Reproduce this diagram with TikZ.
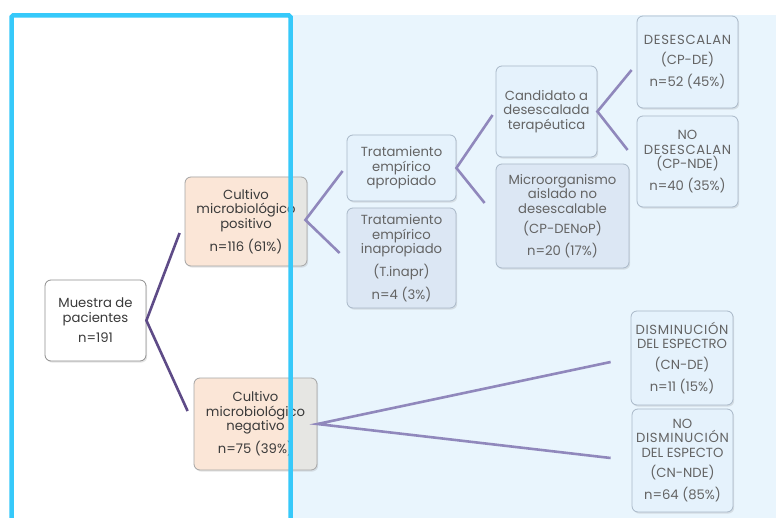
\documentclass[tikz,border=0pt]{standalone}
\usepackage{fontspec}
\setmainfont{Poppins}
\usetikzlibrary{shadows,calc}

\definecolor{frameblue}{HTML}{36C9FA}
\definecolor{panelblue}{HTML}{E9F5FD}
\definecolor{peach}{HTML}{FBE6D7}
\definecolor{peachgray}{HTML}{E6E6E3}
\definecolor{boxlight}{HTML}{E5F2FC}
\definecolor{boxdark}{HTML}{DCE7F4}
\definecolor{edgeblue}{HTML}{A9B8C8}
\definecolor{edgegray}{HTML}{8E8E8E}
\definecolor{darkline}{HTML}{5E4B87}
\definecolor{lightline}{HTML}{9088BC}
\definecolor{txtdark}{HTML}{3A3A3A}
\definecolor{txtgray}{HTML}{646464}

% wider tracking for the upper-case labels
\newcommand\wideword[1]{{\addfontfeature{LetterSpace=5}#1}}

\begin{document}
\begin{tikzpicture}[x=1pt,y=-1pt,
  box/.style={rectangle, rounded corners=6pt, draw, line width=0.8pt,
    align=center, inner sep=2pt,
    font=\fontsize{13.2}{14.6}\selectfont,
    drop shadow={shadow xshift=1.2pt, shadow yshift=-1.6pt, opacity=0.2}},
  rootbox/.style={box, fill=white, draw=edgegray, text=txtdark},
  culturebox/.style={box, fill=peachgray, draw=edgegray!80, text=txtdark,
    path picture={\fill[peach] (path picture bounding box.south west)
      rectangle ([xshift=#1]path picture bounding box.north west);}},
  lightbox/.style={box, fill=boxlight, draw=edgeblue, text=txtgray},
  darkbox/.style={box, fill=boxdark, draw=edgeblue, text=txtgray},
  rootlink/.style={darkline, line width=2.6pt},
  branch/.style={lightline, line width=2.6pt}
]
\useasboundingbox (0,0) rectangle (776,518);
\fill[white] (0,0) rectangle (776,518);

% light blue panel on the right
\fill[panelblue] (290.5,15) rectangle (776,518);

% boxes
\node[rootbox, minimum width=101pt, minimum height=81pt] (muestra) at (95.5,320.5)
  {Muestra de\\pacientes\\[6pt]n=191};
\node[culturebox=106pt, minimum width=122pt, minimum height=89pt] (cpos) at (246,221.5)
  {Cultivo\\microbiológico\\positivo\\[6pt]n=116 (61\%)};
\node[culturebox=97pt, minimum width=123pt, minimum height=92pt] (cneg) at (255.5,424)
  {Cultivo\\microbiológico\\negativo\\[6pt]n=75 (39\%)};

\node[lightbox, minimum width=109pt, minimum height=66pt] (tap) at (401.5,168)
  {Tratamiento\\empírico\\apropiado};
\node[darkbox, minimum width=109pt, minimum height=100pt] (tinap) at (401.5,258)
  {Tratamiento\\empírico\\inapropiado\\[6pt](T.inapr)\\[6pt]n=4 (3\%)};

\node[lightbox, minimum width=101pt, minimum height=91pt] (cand) at (546.5,111.5)
  {Candidato a\\desescalada\\terapéutica};
\node[darkbox, minimum width=133pt, minimum height=104pt] (micro) at (562.5,216)
  {Microorganismo\\aislado no\\desescalable\\[6pt](CP-DENoP)\\[6pt]n=20 (17\%)};

\node[lightbox, minimum width=101pt, minimum height=92pt] (de) at (687.5,62)
  {\wideword{DESESCALAN}\\[6pt](CP-DE)\\[6pt]n=52 (45\%)};
\node[lightbox, minimum width=101pt, minimum height=91pt] (nde) at (687.5,161.5)
  {NO\\\wideword{DESESCALAN}\\(CP-NDE)\\[6pt]n=40 (35\%)};

\node[lightbox, minimum width=102pt, minimum height=94pt] (dis) at (682,358)
  {\wideword{DISMINUCIÓN}\\DEL ESPECTRO\\[6pt](CN-DE)\\[6pt]n=11 (15\%)};
\node[lightbox, minimum width=101pt, minimum height=103pt] (ndis) at (682.5,460.5)
  {NO\\\wideword{DISMINUCIÓN}\\DEL ESPECTO\\[6pt](CN-NDE)\\[6pt]n=64 (85\%)};

% connectors
\draw[rootlink] ([xshift=-5pt,yshift=-11.5pt]cpos.west) -- (muestra.east)
  -- ([xshift=-6pt,yshift=13pt]cneg.west);
\draw[branch] ([xshift=-4pt,yshift=-3pt]tap.west) -- ([xshift=-2pt,yshift=1.5pt]cpos.east)
  -- ([xshift=-7pt,yshift=5pt]tinap.west);
\draw[branch] ([xshift=-3pt,yshift=-3.5pt]cand.west) -- (tap.east)
  -- ([xshift=-11pt,yshift=13pt]micro.west);
\draw[branch] ([xshift=-5pt,yshift=-8pt]de.west) -- (cand.east)
  -- ([xshift=-9pt,yshift=11.5pt]nde.west);
\draw[branch] ([xshift=-20pt,yshift=-4pt]dis.west) -- (cneg.east)
  -- ([xshift=-21pt,yshift=2.5pt]ndis.west);

% blue frame over the left part
\draw[frameblue, line width=4.5pt, rounded corners=1.5pt]
  (11.5,530) -- (11.5,15.5) -- (290.5,15.5) -- (290.5,530);
\end{tikzpicture}
\end{document}
